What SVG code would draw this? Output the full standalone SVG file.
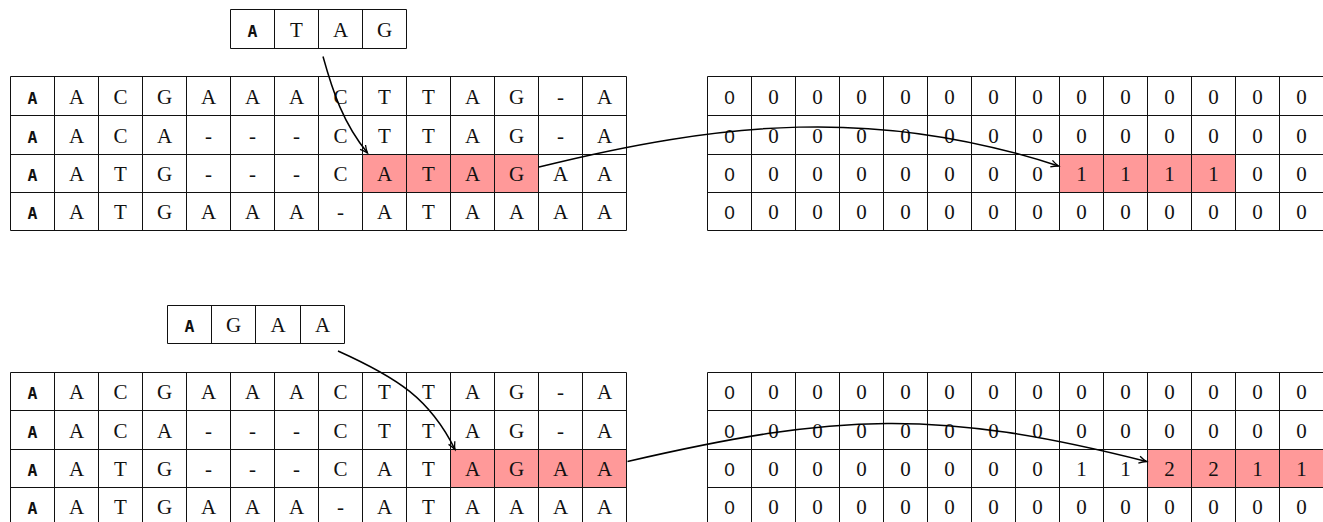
<svg xmlns="http://www.w3.org/2000/svg" width="1323" height="522" viewBox="0 0 1323 522">
<style>
.gl{fill:none;stroke:#111;stroke-width:1}
.hl{fill:#ff9999;stroke:none}
.t{font-family:"Liberation Serif",serif;font-size:21px;text-anchor:middle;fill:#111}
.m{font-family:"DejaVu Sans Mono",monospace;font-size:16.5px;font-weight:bold;text-anchor:middle;fill:#111}
.z{font-family:"Liberation Sans",sans-serif;font-size:19px;text-anchor:middle;fill:#111}
.c{fill:none;stroke:#000;stroke-width:1.5}
</style>
<defs>
<marker id="ah" markerWidth="12" markerHeight="12" refX="9" refY="6" orient="auto" markerUnits="userSpaceOnUse">
<path d="M1.5,2.5 Q5.5,5 9,6 Q5.5,7 1.5,9.5" fill="none" stroke="#000" stroke-width="1.3"/>
</marker>
</defs>
<rect width="1323" height="522" fill="#fff"/>

<g id="query1">
<path class="gl" d="M230.5,9.5H406.5V48.5H230.5Z M274.5,9.5V48.5 M318.5,9.5V48.5 M362.5,9.5V48.5"/>
<text class="m" x="252.5" y="36.5">A</text><text class="t" x="296.5" y="36.5">T</text><text class="t" x="340.5" y="36.5">A</text><text class="t" x="384.5" y="36.5">G</text>
</g>

<g id="align1">
<rect class="hl" x="362.5" y="154.5" width="176" height="38"/>
<path class="gl" d="M10.5,76.5H626.5M10.5,115.5H626.5M10.5,154.5H626.5M10.5,192.5H626.5M10.5,230.5H626.5M10.5,76.5V230.5M54.5,76.5V230.5M98.5,76.5V230.5M142.5,76.5V230.5M186.5,76.5V230.5M230.5,76.5V230.5M274.5,76.5V230.5M318.5,76.5V230.5M362.5,76.5V230.5M406.5,76.5V230.5M450.5,76.5V230.5M494.5,76.5V230.5M538.5,76.5V230.5M582.5,76.5V230.5M626.5,76.5V230.5"/>
<text class="m" x="32.5" y="103.5">A</text><text class="t" x="76.5" y="103.5">A</text><text class="t" x="120.5" y="103.5">C</text><text class="t" x="164.5" y="103.5">G</text><text class="t" x="208.5" y="103.5">A</text><text class="t" x="252.5" y="103.5">A</text><text class="t" x="296.5" y="103.5">A</text><text class="t" x="340.5" y="103.5">C</text><text class="t" x="384.5" y="103.5">T</text><text class="t" x="428.5" y="103.5">T</text><text class="t" x="472.5" y="103.5">A</text><text class="t" x="516.5" y="103.5">G</text><text class="t" x="560.5" y="103.5">-</text><text class="t" x="604.5" y="103.5">A</text>
<text class="m" x="32.5" y="142.5">A</text><text class="t" x="76.5" y="142.5">A</text><text class="t" x="120.5" y="142.5">C</text><text class="t" x="164.5" y="142.5">A</text><text class="t" x="208.5" y="142.5">-</text><text class="t" x="252.5" y="142.5">-</text><text class="t" x="296.5" y="142.5">-</text><text class="t" x="340.5" y="142.5">C</text><text class="t" x="384.5" y="142.5">T</text><text class="t" x="428.5" y="142.5">T</text><text class="t" x="472.5" y="142.5">A</text><text class="t" x="516.5" y="142.5">G</text><text class="t" x="560.5" y="142.5">-</text><text class="t" x="604.5" y="142.5">A</text>
<text class="m" x="32.5" y="181">A</text><text class="t" x="76.5" y="181">A</text><text class="t" x="120.5" y="181">T</text><text class="t" x="164.5" y="181">G</text><text class="t" x="208.5" y="181">-</text><text class="t" x="252.5" y="181">-</text><text class="t" x="296.5" y="181">-</text><text class="t" x="340.5" y="181">C</text><text class="t" x="384.5" y="181">A</text><text class="t" x="428.5" y="181">T</text><text class="t" x="472.5" y="181">A</text><text class="t" x="516.5" y="181">G</text><text class="t" x="560.5" y="181">A</text><text class="t" x="604.5" y="181">A</text>
<text class="m" x="32.5" y="219">A</text><text class="t" x="76.5" y="219">A</text><text class="t" x="120.5" y="219">T</text><text class="t" x="164.5" y="219">G</text><text class="t" x="208.5" y="219">A</text><text class="t" x="252.5" y="219">A</text><text class="t" x="296.5" y="219">A</text><text class="t" x="340.5" y="219">-</text><text class="t" x="384.5" y="219">A</text><text class="t" x="428.5" y="219">T</text><text class="t" x="472.5" y="219">A</text><text class="t" x="516.5" y="219">A</text><text class="t" x="560.5" y="219">A</text><text class="t" x="604.5" y="219">A</text>
</g>

<g id="count1">
<rect class="hl" x="1059.5" y="154.5" width="176" height="38"/>
<path class="gl" d="M707.5,76.5H1323M707.5,115.5H1323M707.5,154.5H1323M707.5,192.5H1323M707.5,230.5H1323M707.5,76.5V230.5M751.5,76.5V230.5M795.5,76.5V230.5M839.5,76.5V230.5M883.5,76.5V230.5M927.5,76.5V230.5M971.5,76.5V230.5M1015.5,76.5V230.5M1059.5,76.5V230.5M1103.5,76.5V230.5M1147.5,76.5V230.5M1191.5,76.5V230.5M1235.5,76.5V230.5M1279.5,76.5V230.5"/>
<text class="z" x="729.5" y="103.5">0</text><text class="t" x="773.5" y="103.5">0</text><text class="t" x="817.5" y="103.5">0</text><text class="t" x="861.5" y="103.5">0</text><text class="t" x="905.5" y="103.5">0</text><text class="t" x="949.5" y="103.5">0</text><text class="t" x="993.5" y="103.5">0</text><text class="t" x="1037.5" y="103.5">0</text><text class="t" x="1081.5" y="103.5">0</text><text class="t" x="1125.5" y="103.5">0</text><text class="t" x="1169.5" y="103.5">0</text><text class="t" x="1213.5" y="103.5">0</text><text class="t" x="1257.5" y="103.5">0</text><text class="t" x="1301.5" y="103.5">0</text>
<text class="z" x="729.5" y="142.5">0</text><text class="t" x="773.5" y="142.5">0</text><text class="t" x="817.5" y="142.5">0</text><text class="t" x="861.5" y="142.5">0</text><text class="t" x="905.5" y="142.5">0</text><text class="t" x="949.5" y="142.5">0</text><text class="t" x="993.5" y="142.5">0</text><text class="t" x="1037.5" y="142.5">0</text><text class="t" x="1081.5" y="142.5">0</text><text class="t" x="1125.5" y="142.5">0</text><text class="t" x="1169.5" y="142.5">0</text><text class="t" x="1213.5" y="142.5">0</text><text class="t" x="1257.5" y="142.5">0</text><text class="t" x="1301.5" y="142.5">0</text>
<text class="z" x="729.5" y="181">0</text><text class="t" x="773.5" y="181">0</text><text class="t" x="817.5" y="181">0</text><text class="t" x="861.5" y="181">0</text><text class="t" x="905.5" y="181">0</text><text class="t" x="949.5" y="181">0</text><text class="t" x="993.5" y="181">0</text><text class="t" x="1037.5" y="181">0</text><text class="t" x="1081.5" y="181">1</text><text class="t" x="1125.5" y="181">1</text><text class="t" x="1169.5" y="181">1</text><text class="t" x="1213.5" y="181">1</text><text class="t" x="1257.5" y="181">0</text><text class="t" x="1301.5" y="181">0</text>
<text class="z" x="729.5" y="219">0</text><text class="t" x="773.5" y="219">0</text><text class="t" x="817.5" y="219">0</text><text class="t" x="861.5" y="219">0</text><text class="t" x="905.5" y="219">0</text><text class="t" x="949.5" y="219">0</text><text class="t" x="993.5" y="219">0</text><text class="t" x="1037.5" y="219">0</text><text class="t" x="1081.5" y="219">0</text><text class="t" x="1125.5" y="219">0</text><text class="t" x="1169.5" y="219">0</text><text class="t" x="1213.5" y="219">0</text><text class="t" x="1257.5" y="219">0</text><text class="t" x="1301.5" y="219">0</text>
</g>

<g id="query2">
<path class="gl" d="M167.5,305.5H344.5V343.5H167.5Z M211.5,305.5V343.5 M255.5,305.5V343.5 M300.5,305.5V343.5"/>
<text class="m" x="189.5" y="332">A</text><text class="t" x="233.5" y="332">G</text><text class="t" x="278" y="332">A</text><text class="t" x="322.5" y="332">A</text>
</g>

<g id="align2">
<rect class="hl" x="450.5" y="449.5" width="176" height="38"/>
<path class="gl" d="M10.5,372.5H626.5M10.5,410.5H626.5M10.5,449.5H626.5M10.5,487.5H626.5M10.5,525.5H626.5M10.5,372.5V526M54.5,372.5V526M98.5,372.5V526M142.5,372.5V526M186.5,372.5V526M230.5,372.5V526M274.5,372.5V526M318.5,372.5V526M362.5,372.5V526M406.5,372.5V526M450.5,372.5V526M494.5,372.5V526M538.5,372.5V526M582.5,372.5V526M626.5,372.5V526"/>
<text class="m" x="32.5" y="399">A</text><text class="t" x="76.5" y="399">A</text><text class="t" x="120.5" y="399">C</text><text class="t" x="164.5" y="399">G</text><text class="t" x="208.5" y="399">A</text><text class="t" x="252.5" y="399">A</text><text class="t" x="296.5" y="399">A</text><text class="t" x="340.5" y="399">C</text><text class="t" x="384.5" y="399">T</text><text class="t" x="428.5" y="399">T</text><text class="t" x="472.5" y="399">A</text><text class="t" x="516.5" y="399">G</text><text class="t" x="560.5" y="399">-</text><text class="t" x="604.5" y="399">A</text>
<text class="m" x="32.5" y="437.5">A</text><text class="t" x="76.5" y="437.5">A</text><text class="t" x="120.5" y="437.5">C</text><text class="t" x="164.5" y="437.5">A</text><text class="t" x="208.5" y="437.5">-</text><text class="t" x="252.5" y="437.5">-</text><text class="t" x="296.5" y="437.5">-</text><text class="t" x="340.5" y="437.5">C</text><text class="t" x="384.5" y="437.5">T</text><text class="t" x="428.5" y="437.5">T</text><text class="t" x="472.5" y="437.5">A</text><text class="t" x="516.5" y="437.5">G</text><text class="t" x="560.5" y="437.5">-</text><text class="t" x="604.5" y="437.5">A</text>
<text class="m" x="32.5" y="476">A</text><text class="t" x="76.5" y="476">A</text><text class="t" x="120.5" y="476">T</text><text class="t" x="164.5" y="476">G</text><text class="t" x="208.5" y="476">-</text><text class="t" x="252.5" y="476">-</text><text class="t" x="296.5" y="476">-</text><text class="t" x="340.5" y="476">C</text><text class="t" x="384.5" y="476">A</text><text class="t" x="428.5" y="476">T</text><text class="t" x="472.5" y="476">A</text><text class="t" x="516.5" y="476">G</text><text class="t" x="560.5" y="476">A</text><text class="t" x="604.5" y="476">A</text>
<text class="m" x="32.5" y="514">A</text><text class="t" x="76.5" y="514">A</text><text class="t" x="120.5" y="514">T</text><text class="t" x="164.5" y="514">G</text><text class="t" x="208.5" y="514">A</text><text class="t" x="252.5" y="514">A</text><text class="t" x="296.5" y="514">A</text><text class="t" x="340.5" y="514">-</text><text class="t" x="384.5" y="514">A</text><text class="t" x="428.5" y="514">T</text><text class="t" x="472.5" y="514">A</text><text class="t" x="516.5" y="514">A</text><text class="t" x="560.5" y="514">A</text><text class="t" x="604.5" y="514">A</text>
</g>

<g id="count2">
<rect class="hl" x="1147.5" y="449.5" width="176" height="38"/>
<path class="gl" d="M707.5,372.5H1323M707.5,410.5H1323M707.5,449.5H1323M707.5,487.5H1323M707.5,525.5H1323M707.5,372.5V526M751.5,372.5V526M795.5,372.5V526M839.5,372.5V526M883.5,372.5V526M927.5,372.5V526M971.5,372.5V526M1015.5,372.5V526M1059.5,372.5V526M1103.5,372.5V526M1147.5,372.5V526M1191.5,372.5V526M1235.5,372.5V526M1279.5,372.5V526"/>
<text class="z" x="729.5" y="399">0</text><text class="t" x="773.5" y="399">0</text><text class="t" x="817.5" y="399">0</text><text class="t" x="861.5" y="399">0</text><text class="t" x="905.5" y="399">0</text><text class="t" x="949.5" y="399">0</text><text class="t" x="993.5" y="399">0</text><text class="t" x="1037.5" y="399">0</text><text class="t" x="1081.5" y="399">0</text><text class="t" x="1125.5" y="399">0</text><text class="t" x="1169.5" y="399">0</text><text class="t" x="1213.5" y="399">0</text><text class="t" x="1257.5" y="399">0</text><text class="t" x="1301.5" y="399">0</text>
<text class="z" x="729.5" y="437.5">0</text><text class="t" x="773.5" y="437.5">0</text><text class="t" x="817.5" y="437.5">0</text><text class="t" x="861.5" y="437.5">0</text><text class="t" x="905.5" y="437.5">0</text><text class="t" x="949.5" y="437.5">0</text><text class="t" x="993.5" y="437.5">0</text><text class="t" x="1037.5" y="437.5">0</text><text class="t" x="1081.5" y="437.5">0</text><text class="t" x="1125.5" y="437.5">0</text><text class="t" x="1169.5" y="437.5">0</text><text class="t" x="1213.5" y="437.5">0</text><text class="t" x="1257.5" y="437.5">0</text><text class="t" x="1301.5" y="437.5">0</text>
<text class="z" x="729.5" y="476">0</text><text class="t" x="773.5" y="476">0</text><text class="t" x="817.5" y="476">0</text><text class="t" x="861.5" y="476">0</text><text class="t" x="905.5" y="476">0</text><text class="t" x="949.5" y="476">0</text><text class="t" x="993.5" y="476">0</text><text class="t" x="1037.5" y="476">0</text><text class="t" x="1081.5" y="476">1</text><text class="t" x="1125.5" y="476">1</text><text class="t" x="1169.5" y="476">2</text><text class="t" x="1213.5" y="476">2</text><text class="t" x="1257.5" y="476">1</text><text class="t" x="1301.5" y="476">1</text>
<text class="z" x="729.5" y="514">0</text><text class="t" x="773.5" y="514">0</text><text class="t" x="817.5" y="514">0</text><text class="t" x="861.5" y="514">0</text><text class="t" x="905.5" y="514">0</text><text class="t" x="949.5" y="514">0</text><text class="t" x="993.5" y="514">0</text><text class="t" x="1037.5" y="514">0</text><text class="t" x="1081.5" y="514">0</text><text class="t" x="1125.5" y="514">0</text><text class="t" x="1169.5" y="514">0</text><text class="t" x="1213.5" y="514">0</text><text class="t" x="1257.5" y="514">0</text><text class="t" x="1301.5" y="514">0</text>
</g>

<g id="connectors">
<path class="c" marker-end="url(#ah)" d="M323,56.5 C332.8,91.7 343,122.7 367.5,153"/>
<path class="c" marker-end="url(#ah)" d="M539,167 C721,122 876,106 1058.5,166"/>
<path class="c" marker-end="url(#ah)" d="M338,351 C398,378 430,399 455,449.5"/>
<path class="c" marker-end="url(#ah)" d="M627.5,461.5 C837,413 937,408.5 1146.5,461.5"/>
</g>
</svg>
